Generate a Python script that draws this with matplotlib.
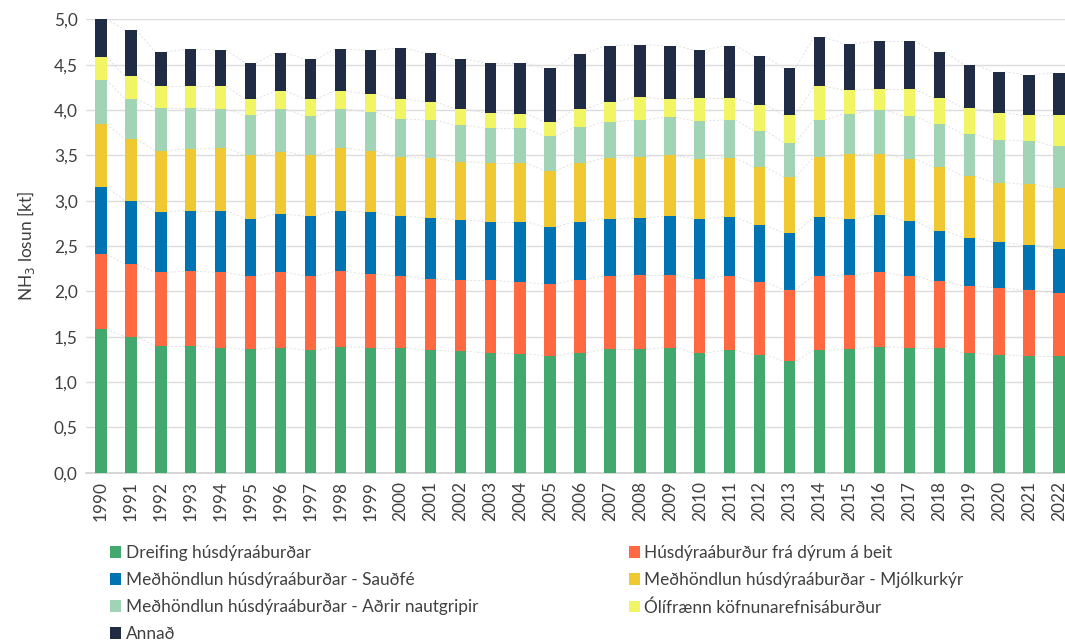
import numpy as np
import matplotlib
matplotlib.use("Agg")
import matplotlib.pyplot as plt
from matplotlib.ticker import FuncFormatter

plt.rcParams['font.family'] = ['Lato', 'DejaVu Sans']

years = list(range(1990, 2023))

# segment values [kt]
dreifing = [1.58, 1.50, 1.40, 1.40, 1.38, 1.36, 1.38, 1.35, 1.39, 1.38, 1.38,
            1.35, 1.34, 1.32, 1.31, 1.29, 1.32, 1.36, 1.36, 1.38, 1.32, 1.35,
            1.30, 1.23, 1.35, 1.36, 1.39, 1.38, 1.38, 1.32, 1.30, 1.29, 1.29]
beit = [0.83, 0.80, 0.81, 0.82, 0.83, 0.81, 0.83, 0.82, 0.83, 0.81, 0.79,
        0.79, 0.78, 0.80, 0.79, 0.79, 0.81, 0.81, 0.82, 0.80, 0.82, 0.82,
        0.80, 0.79, 0.82, 0.82, 0.82, 0.79, 0.73, 0.74, 0.74, 0.72, 0.69]
saudfe = [0.74, 0.70, 0.67, 0.67, 0.68, 0.63, 0.64, 0.66, 0.67, 0.68, 0.66,
          0.67, 0.67, 0.65, 0.67, 0.63, 0.64, 0.63, 0.63, 0.65, 0.66, 0.65,
          0.63, 0.62, 0.65, 0.62, 0.63, 0.61, 0.56, 0.53, 0.50, 0.50, 0.49]
mjolkurkyr = [0.69, 0.68, 0.67, 0.68, 0.69, 0.70, 0.69, 0.67, 0.69, 0.68, 0.65,
              0.66, 0.64, 0.65, 0.65, 0.62, 0.65, 0.67, 0.67, 0.67, 0.66, 0.65,
              0.64, 0.62, 0.66, 0.71, 0.68, 0.68, 0.70, 0.68, 0.66, 0.67, 0.67]
nautgripir = [0.49, 0.44, 0.47, 0.45, 0.43, 0.44, 0.47, 0.43, 0.43, 0.43, 0.42,
              0.42, 0.40, 0.38, 0.38, 0.38, 0.39, 0.40, 0.41, 0.42, 0.42, 0.42,
              0.40, 0.38, 0.41, 0.45, 0.48, 0.47, 0.47, 0.46, 0.47, 0.48, 0.46]
olifraenn = [0.25, 0.25, 0.24, 0.24, 0.25, 0.18, 0.20, 0.19, 0.20, 0.20, 0.22,
             0.20, 0.18, 0.17, 0.16, 0.16, 0.20, 0.22, 0.25, 0.20, 0.25, 0.24,
             0.29, 0.30, 0.37, 0.26, 0.23, 0.30, 0.29, 0.29, 0.30, 0.28, 0.34]
annad = [0.42, 0.51, 0.38, 0.41, 0.40, 0.40, 0.42, 0.44, 0.46, 0.48, 0.56,
         0.54, 0.55, 0.55, 0.56, 0.59, 0.61, 0.62, 0.58, 0.59, 0.53, 0.58,
         0.53, 0.52, 0.54, 0.51, 0.53, 0.53, 0.51, 0.48, 0.45, 0.45, 0.47]

labels = ["Dreifing húsdýraáburðar",
          "Húsdýraáburður frá dýrum á beit",
          "Meðhöndlun húsdýraáburðar - Sauðfé",
          "Meðhöndlun húsdýraáburðar - Mjólkurkýr",
          "Meðhöndlun húsdýraáburðar - Aðrir nautgripir",
          "Ólífrænn köfnunarefnisáburður",
          "Annað"]
colors = ["#43A86D", "#FF6942", "#0073B3", "#F0C932", "#A1D3B5", "#F1F563", "#1F2C43"]
series = [dreifing, beit, saudfe, mjolkurkyr, nautgripir, olifraenn, annad]

text_color = "#404040"
tick_font = 12.4
bar_width = 0.38

fig = plt.figure(figsize=(10.65, 6.44), dpi=100)
ax = fig.add_axes([86 / 1065, 1 - 472.7 / 644, 979 / 1065, 453.4 / 644])

x = np.arange(len(years))
bottom = np.zeros(len(years))
handles = []
for vals, col, lab in zip(series, colors, labels):
    vals = np.array(vals)
    b = ax.bar(x, vals, bar_width, bottom=bottom, color=col, label=lab, zorder=3)
    handles.append(b)
    bottom = bottom + vals
    # series lines between adjacent bars
    for i in range(len(x) - 1):
        ax.plot([x[i] + bar_width / 2, x[i + 1] - bar_width / 2],
                [bottom[i], bottom[i + 1]], color="#E0E0E0", lw=0.7,
                ls=(0, (2, 2)), zorder=2)

ax.set_xlim(-0.5, -0.5 + 979 / 29.94)
ax.set_ylim(0, 5)
ax.set_yticks(np.arange(0, 5.01, 0.5))
ax.yaxis.set_major_formatter(FuncFormatter(lambda v, p: f"{v:.1f}".replace(".", ",")))
ax.set_xticks(x)
ax.set_xticklabels([str(y) for y in years], rotation=90)
ax.tick_params(axis='both', length=0, labelsize=tick_font, colors=text_color, pad=6)
ax.grid(axis='y', color="#DCDCDC", lw=1.0, zorder=0)
ax.set_axisbelow(True)
for s in ["top", "right", "left"]:
    ax.spines[s].set_visible(False)
ax.spines["bottom"].set_color("#D0D0D0")
ax.spines["bottom"].set_linewidth(1.2)
ax.set_ylabel("NH$_3$ losun [kt]", fontsize=12.4, color=text_color, labelpad=12)

order = [0, 2, 4, 6, 1, 3, 5]
fig.legend([handles[i] for i in order], [labels[i] for i in order],
           loc="upper left", bbox_to_anchor=(110 / 1065, 1 - 545 / 644),
           ncol=2, frameon=False, fontsize=tick_font, labelcolor=text_color,
           handlelength=0.65, handleheight=0.65, handletextpad=0.25,
           labelspacing=0.64, columnspacing=8.75, borderpad=0, borderaxespad=0)

plt.savefig("out.png", dpi=100)
